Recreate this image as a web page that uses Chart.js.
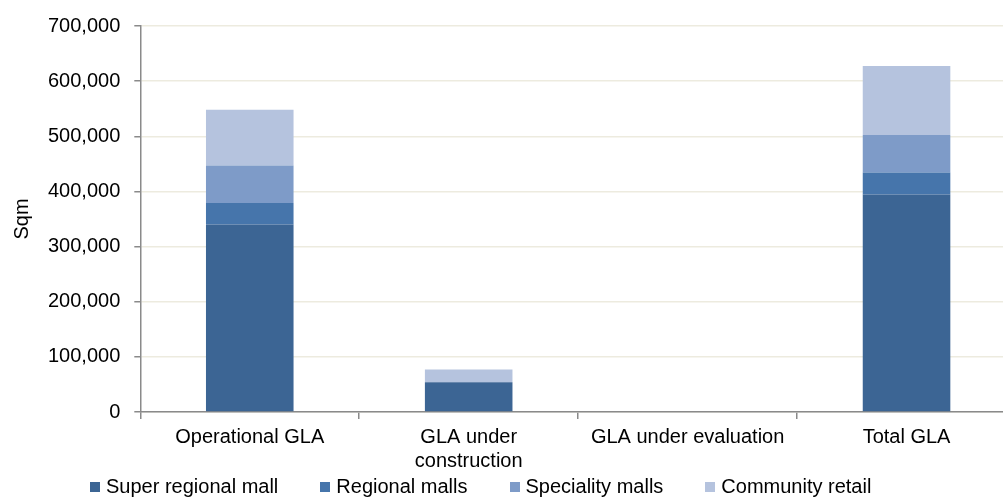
<!DOCTYPE html>
<html>
<head>
<meta charset="utf-8">
<script src="https://cdn.jsdelivr.net/npm/chart.js@4.4.1/dist/chart.umd.min.js"></script>
<style>
    html, body { margin: 0; padding: 0; background: #fff; overflow: hidden; }
    #wrap { position: relative; width: 1020px; height: 498px; }
    #legend {
        position: absolute; left: 90px; top: 475px;
        display: flex; gap: 42px;
        font: 20px "Liberation Sans", Arial, sans-serif; color: #000;
    }
    #legend span.item { display: flex; align-items: center; white-space: nowrap; }
    #legend i { display: inline-block; width: 10px; height: 10px; margin-right: 6px; }
</style>
</head>
<body>
<div id="wrap">
    <canvas id="gla-chart" width="1020" height="498"></canvas>
    <div id="legend"></div>
</div>
<script>
// ─── DATA ─────────────────────────────────────────────────
const categories = ['Operational GLA', ['GLA under', 'construction'], 'GLA under evaluation', 'Total GLA'];
const superRegional = [340000, 54000, 0, 394500];
const regionalMalls = [39000, 0, 0, 40000];
const specialityMalls = [68000, 0, 0, 68000];
const communityRetail = [101000, 23000, 0, 125000];
const yTicks = [0, 100000, 200000, 300000, 400000, 500000, 600000, 700000];

const FONT = '"Liberation Sans", Arial, sans-serif';
const AXIS_GREY = '#8a8a8a';

const series = [
    { label: 'Super regional mall', data: superRegional, color: '#3C6594' },
    { label: 'Regional malls', data: regionalMalls, color: '#4675AB' },
    { label: 'Speciality malls', data: specialityMalls, color: '#7E9BC8' },
    { label: 'Community retail', data: communityRetail, color: '#B5C3DE' },
];

// ─── CHART ────────────────────────────────────────────────
const ctx = document.getElementById('gla-chart');
new Chart(ctx, {
    type: 'bar',
    data: {
        labels: categories,
        datasets: series.map(s => ({
            label: s.label,
            data: s.data,
            backgroundColor: s.color,
            borderWidth: 0,
            categoryPercentage: 1,
            barPercentage: 0.4,
        }))
    },
    options: {
        responsive: false,
        animation: false,
        layout: { padding: { left: 0, right: 4, top: 10, bottom: 19 } },
        plugins: {
            legend: { display: false },
            tooltip: { enabled: false }
        },
        scales: {
            x: {
                stacked: true,
                offset: true,
                border: { display: true, color: AXIS_GREY, width: 1.5 },
                grid: {
                    display: true,
                    offset: true,
                    drawOnChartArea: false,
                    tickLength: 7,
                    tickColor: AXIS_GREY,
                    lineWidth: 1.5
                },
                ticks: {
                    color: '#000',
                    padding: 6,
                    maxRotation: 0,
                    autoSkip: false,
                    font: { family: FONT, size: 20 }
                }
            },
            y: {
                stacked: true,
                min: 0,
                max: yTicks[yTicks.length - 1],
                afterBuildTicks: axis => { axis.ticks = yTicks.map(v => ({ value: v })); },
                border: { display: true, color: AXIS_GREY, width: 1.5 },
                grid: {
                    color: '#EDEBDF',
                    lineWidth: 1.5,
                    tickColor: AXIS_GREY,
                    tickLength: 6
                },
                ticks: {
                    color: '#000',
                    padding: 14,
                    font: { family: FONT, size: 20 },
                    callback: v => v.toLocaleString('en-US')
                },
                title: {
                    display: true,
                    text: 'Sqm',
                    color: '#000',
                    padding: { top: 10, bottom: 0 },
                    font: { family: FONT, size: 20 }
                }
            }
        }
    }
});

// ─── LEGEND ───────────────────────────────────────────────
document.getElementById('legend').innerHTML = series
    .map(s => `<span class="item"><i style="background:${s.color}"></i>${s.label}</span>`)
    .join('');
</script>
</body>
</html>
